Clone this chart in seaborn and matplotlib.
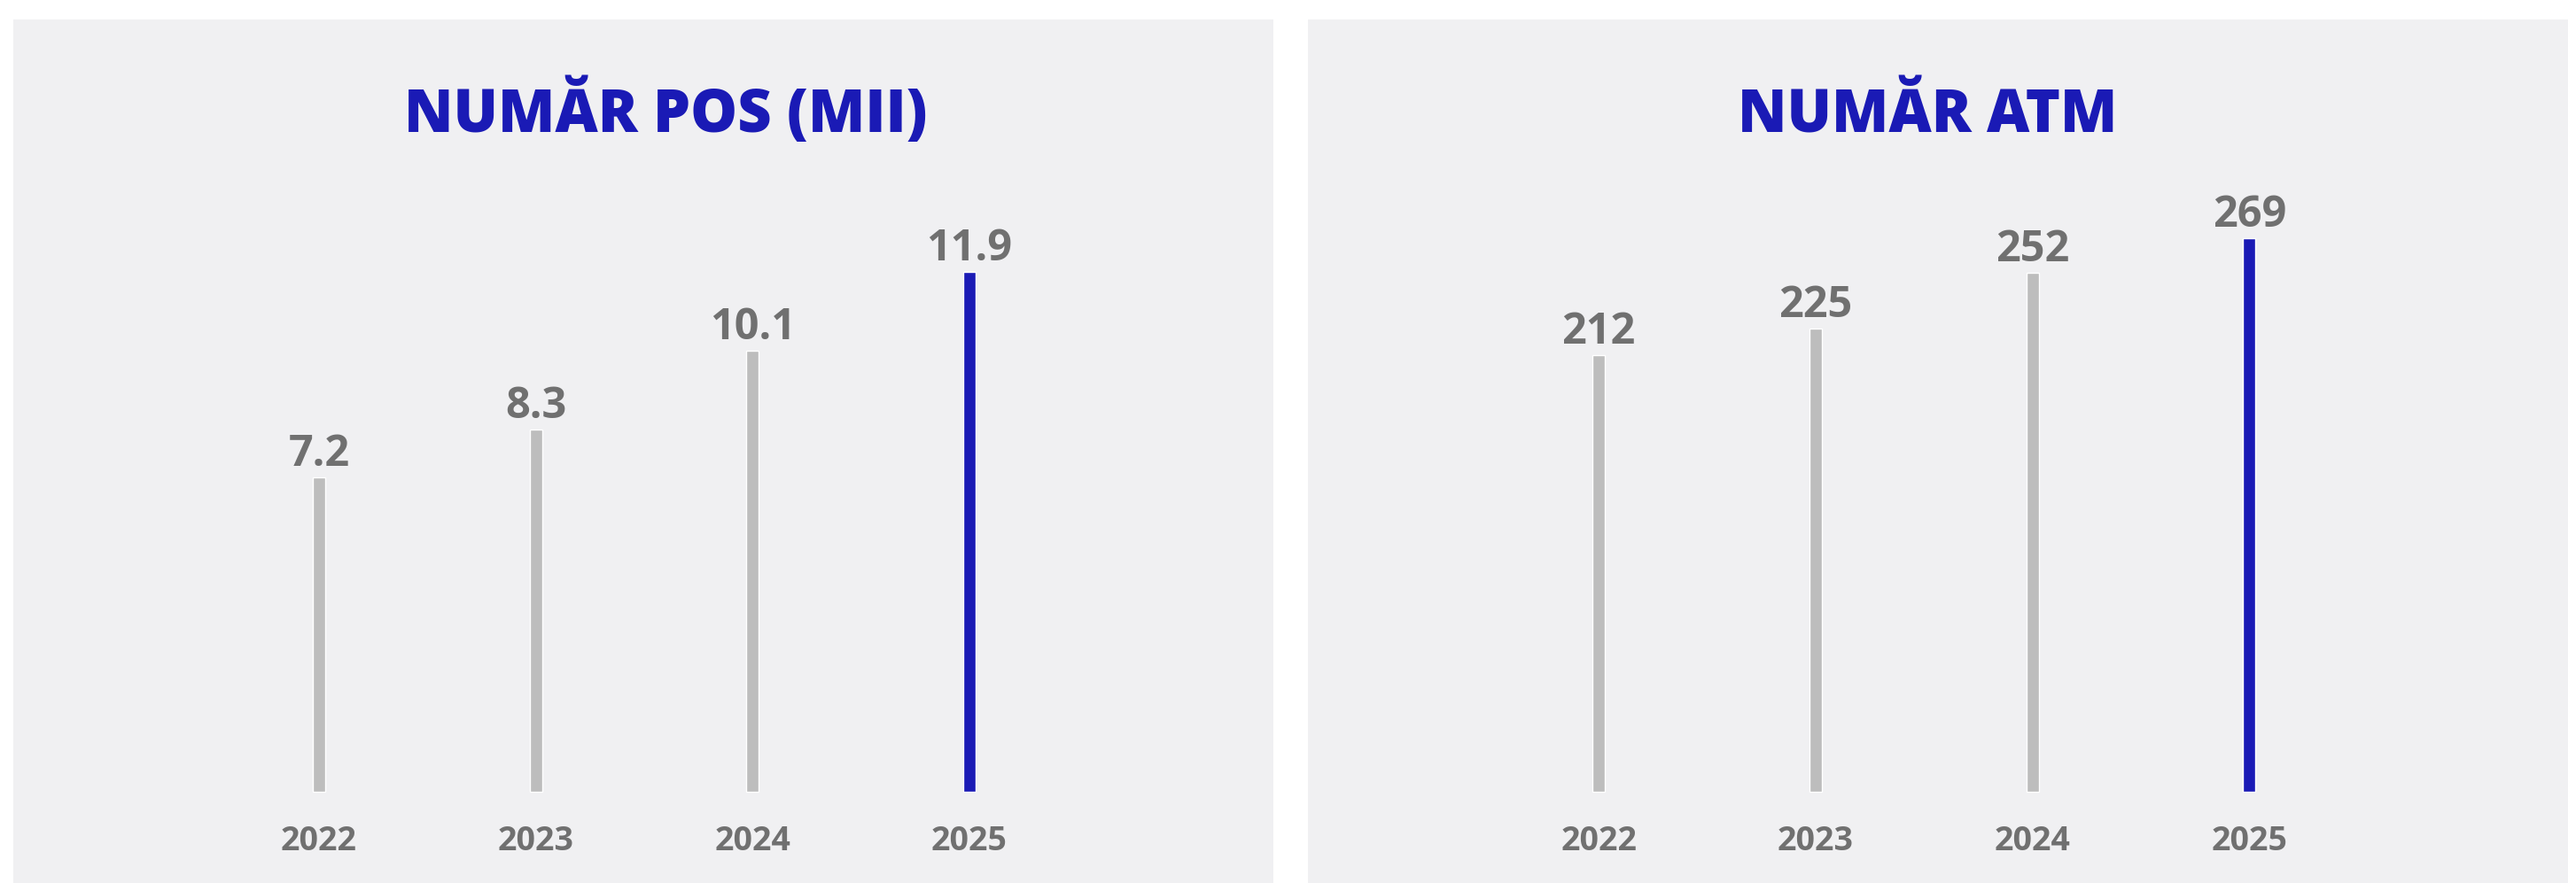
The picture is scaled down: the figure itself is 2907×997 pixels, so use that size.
import matplotlib
matplotlib.use("Agg")
import matplotlib.pyplot as plt
import seaborn as sns

years = ["2022", "2023", "2024", "2025"]
pos_values = [7.2, 8.3, 10.1, 11.9]
atm_values = [212, 225, 252, 269]
pos_labels = ["7.2", "8.3", "10.1", "11.9"]
atm_labels = ["212", "225", "252", "269"]
titles = ["NUMĂR POS (MII)", "NUMĂR ATM"]

BLUE = "#1a1ab5"
GREY_BAR = "#bdbdbd"
GREY_TXT = "#707070"
PANEL = "#f0f0f2"

sns.set_style("white")
plt.rcParams["font.family"] = ["Open Sans", "DejaVu Sans"]

W, H = 2907, 997
fig = plt.figure(figsize=(W / 100, H / 100), dpi=100)
fig.patch.set_facecolor("white")

# panel boxes in pixels: left, right edge; top at 22, bottom at figure edge
panels = [(15, 1437), (1476, 2898)]
xlims = [(-1.41, 4.403), (-1.341, 4.47)]
ylims = [(-2.089, 17.69), (-44.3, 375.1)]
title_x = [0.518, 0.4916]

data = [(pos_values, pos_labels), (atm_values, atm_labels)]
palette = [GREY_BAR, GREY_BAR, GREY_BAR, BLUE]

for i, (x0, x1) in enumerate(panels):
    ax = fig.add_axes([x0 / W, 0, (x1 - x0) / W, 1 - 22 / H])
    ax.set_facecolor(PANEL)
    vals, labs = data[i]
    sns.barplot(x=years, y=vals, hue=years, palette=palette, width=0.0572,
                legend=False, ax=ax, saturation=1)
    ax.set_xlim(*xlims[i])
    ax.set_ylim(*ylims[i])
    for k, (v, t) in enumerate(zip(vals, labs)):
        ax.annotate(t, (k, v), xytext=(0, 9.4), textcoords="offset points",
                    ha="center", va="baseline", fontsize=35, fontweight="bold",
                    color=GREY_TXT)
        ax.annotate(years[k], (k, 0), xytext=(0, -47.5), textcoords="offset points",
                    ha="center", va="baseline", fontsize=27, fontweight="bold",
                    color=GREY_TXT)
    ax.text(title_x[i], 1 - (149 - 22) / (H - 22), titles[i], transform=ax.transAxes,
            ha="center", va="baseline", fontsize=48, fontweight="heavy", color=BLUE)
    ax.set_xticks([])
    ax.set_yticks([])
    ax.set_xlabel("")
    ax.set_ylabel("")
    for s in ax.spines.values():
        s.set_visible(False)

fig.savefig("out.png", dpi=100, facecolor="white")
